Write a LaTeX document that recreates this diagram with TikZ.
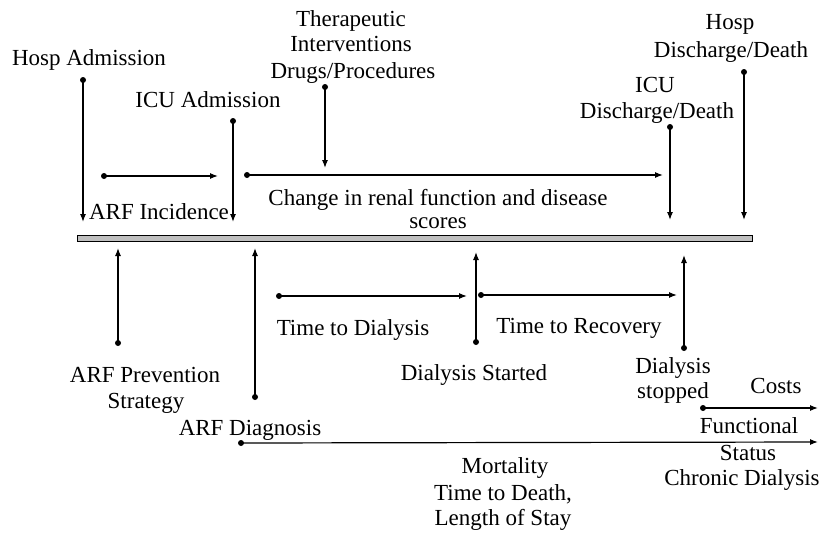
\documentclass[tikz,border=0pt]{standalone}
\usepackage{fontspec}
\setmainfont{Liberation Serif}
\usetikzlibrary{arrows.meta}
\begin{document}
\begin{tikzpicture}[x=1pt,y=-1pt,
  lbl/.style={anchor=base,inner sep=0pt,font=\fontsize{23}{26}\selectfont},
  conn/.style={line width=1.2pt,-{Latex[length=8pt,width=6pt]}},
  dotc/.style={fill=black}]
\useasboundingbox (0,0) rectangle (826,535);
% timeline bar
\draw[fill=black!25,line width=0.8pt] (77,235) rectangle (752,241);
% coordinates
\coordinate (haS) at (83,80);   \coordinate (haE) at (83,222);
\coordinate (iaS) at (233,121); \coordinate (iaE) at (233,222);
\coordinate (h1S) at (104,176); \coordinate (h1E) at (218,176);
\coordinate (h2S) at (247,175); \coordinate (h2E) at (663,175);
\coordinate (thS) at (325,87);  \coordinate (thE) at (325,168);
\coordinate (idS) at (670,127); \coordinate (idE) at (670,220);
\coordinate (hdS) at (744,72);  \coordinate (hdE) at (744,220);
\coordinate (pvS) at (118,343); \coordinate (pvE) at (118,248);
\coordinate (dgS) at (255,397); \coordinate (dgE) at (255,248);
\coordinate (tdS) at (279,296); \coordinate (tdE) at (467,296);
\coordinate (dsS) at (476,342); \coordinate (dsE) at (476,252);
\coordinate (trS) at (481,295); \coordinate (trE) at (677,295);
\coordinate (dpS) at (684,348); \coordinate (dpE) at (684,255);
\coordinate (csS) at (703,408); \coordinate (csE) at (818,408);
\coordinate (lgS) at (241,443); \coordinate (lgE) at (818,442);
\foreach \p/\q in {haS/haE,iaS/iaE,h1S/h1E,h2S/h2E,thS/thE,idS/idE,hdS/hdE,pvS/pvE,dgS/dgE,tdS/tdE,dsS/dsE,trS/trE,dpS/dpE,csS/csE,lgS/lgE}{
  \draw[conn] (\p) -- (\q);
  \fill[dotc] (\p) circle (3pt);
}
% labels
\node[lbl] (hosp) at (89,65) {Hosp Admission};
\node[lbl] (icuadm) at (208,107) {ICU Admission};
\node[lbl] (ther1) at (351,27) {Therapeutic};
\node[lbl] (ther2) at (351,52) {Interventions};
\node[lbl] (ther3) at (353,78) {Drugs/Procedures};
\node[lbl] (arfinc) at (159,219) {ARF Incidence};
\node[lbl,anchor=north,align=center,font=\fontsize{23}{23}\selectfont] (change) at (438,189)
  {Change in renal function and disease\\scores};
\node[lbl] (icud1) at (655,92) {ICU};
\node[lbl] (icud2) at (657,118) {Discharge/Death};
\node[lbl] (hospd1) at (730,30) {Hosp};
\node[lbl] (hospd2) at (731,57) {Discharge/Death};
\node[lbl] (ttd) at (353,335) {Time to Dialysis};
\node[lbl] (ttr) at (579,333) {Time to Recovery};
\node[lbl] (dstart) at (474,380) {Dialysis Started};
\node[lbl] (prev1) at (145,382) {ARF Prevention};
\node[lbl] (prev2) at (146,408) {Strategy};
\node[lbl] (diag) at (250,435) {ARF Diagnosis};
\node[lbl] (dstop1) at (673,373) {Dialysis};
\node[lbl] (dstop2) at (673,398) {stopped};
\node[lbl] (costs) at (776,393) {Costs};
\node[lbl] (func1) at (749,433) {Functional};
\node[lbl] (func2) at (748,460) {Status};
\node[lbl] (func3) at (742,485) {Chronic Dialysis};
\node[lbl] (mort1) at (505,473) {Mortality};
\node[lbl] (mort2) at (503,500) {Time to Death,};
\node[lbl] (mort3) at (503,525) {Length of Stay};
\end{tikzpicture}
\end{document}
